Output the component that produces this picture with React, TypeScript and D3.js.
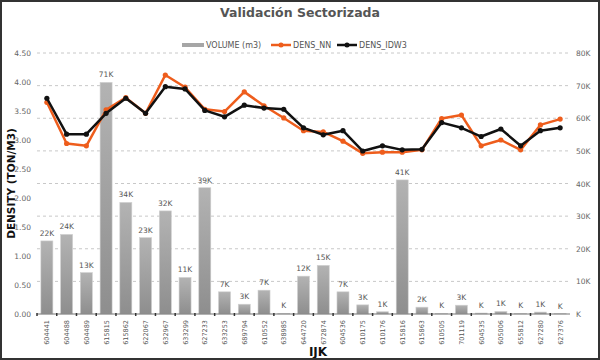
import { useEffect, useRef } from "react";
import * as d3 from "d3";

const categories = [
  "604441", "604488", "604489", "615815", "615862", "622067", "632967", "633299", "627233",
  "633253", "689794", "610552", "638985", "644720", "672874", "604536", "610175", "610176",
  "615816", "615863", "610505", "701119", "604535", "605006", "655812", "627280", "627376",
];

// volume in m3
const volume = [
  22400, 24400, 12700, 71000, 34200, 23400, 31600, 11200, 38700,
  6800, 3000, 7300, 200, 11600, 14900, 6800, 2800, 700,
  41100, 2100, 200, 2700, 300, 800, 200, 600, 100,
];

const densNN = [
  3.65, 2.94, 2.90, 3.52, 3.73, 3.46, 4.12, 3.91, 3.53,
  3.49, 3.83, 3.59, 3.38, 3.16, 3.14, 2.98, 2.77, 2.79,
  2.79, 2.83, 3.37, 3.43, 2.90, 3.00, 2.83, 3.26, 3.36,
];

const densIDW3 = [
  3.72, 3.10, 3.10, 3.46, 3.72, 3.46, 3.92, 3.88, 3.51,
  3.40, 3.60, 3.55, 3.53, 3.21, 3.09, 3.16, 2.81, 2.90,
  2.83, 2.84, 3.30, 3.21, 3.06, 3.19, 2.90, 3.16, 3.21,
];

const leftTicks = [0, 0.5, 1, 1.5, 2, 2.5, 3, 3.5, 4, 4.5];
const rightTicks = [0, 10000, 20000, 30000, 40000, 50000, 60000, 70000, 80000];

export default function App() {
  const svgRef = useRef<SVGSVGElement | null>(null);

  useEffect(() => {
    const width = 600;
    const height = 360;
    const m = { left: 37, right: 30, top: 53, bottom: 46 };
    const font = "'DejaVu Sans', Verdana, sans-serif";

    const svg = d3.select(svgRef.current);
    svg.selectAll("*").remove();
    svg.attr("width", width).attr("height", height);

    svg.append("rect").attr("width", width).attr("height", height).attr("fill", "#fff");

    const defs = svg.append("defs");
    const grad = defs
      .append("linearGradient")
      .attr("id", "barGrad")
      .attr("x1", 0).attr("x2", 0).attr("y1", 0).attr("y2", 1);
    grad.append("stop").attr("offset", "0%").attr("stop-color", "#b3b3b3");
    grad.append("stop").attr("offset", "100%").attr("stop-color", "#8e8e8e");

    const x = d3
      .scaleBand()
      .domain(categories)
      .range([m.left, width - m.right]);
    const yL = d3.scaleLinear().domain([0, 4.5]).range([height - m.bottom, m.top]);
    const yR = d3.scaleLinear().domain([0, 80000]).range([height - m.bottom, m.top]);
    const cx = (c: string) => (x(c) ?? 0) + x.bandwidth() / 2;

    // title
    svg
      .append("text")
      .attr("x", 300)
      .attr("y", 17)
      .attr("text-anchor", "middle")
      .style("font-family", font)
      .style("font-weight", "bold")
      .style("font-size", "12.5px")
      .attr("fill", "#555")
      .text("Validación Sectorizada");

    // legend
    const lg = svg.append("g").style("font-family", font).style("font-size", "8px").attr("fill", "#555");
    lg.append("rect").attr("x", 182).attr("y", 43).attr("width", 22).attr("height", 4).attr("fill", "#a6a6a6");
    lg.append("text").attr("x", 206).attr("y", 48).text("VOLUME (m3)");
    lg.append("line").attr("x1", 271).attr("x2", 291).attr("y1", 45).attr("y2", 45).attr("stroke", "#ee5d1c").attr("stroke-width", 2.5);
    lg.append("circle").attr("cx", 281).attr("cy", 45).attr("r", 2.5).attr("fill", "#ee5d1c");
    lg.append("text").attr("x", 293).attr("y", 48).text("DENS_NN");
    lg.append("line").attr("x1", 337).attr("x2", 357).attr("y1", 45).attr("y2", 45).attr("stroke", "#111").attr("stroke-width", 2.5);
    lg.append("circle").attr("cx", 347).attr("cy", 45).attr("r", 2.5).attr("fill", "#111");
    lg.append("text").attr("x", 359).attr("y", 48).text("DENS_IDW3");

    // gridlines (secondary axis)
    svg
      .append("g")
      .selectAll("line")
      .data(rightTicks.filter((t) => t > 0))
      .join("line")
      .attr("x1", m.left)
      .attr("x2", width - m.right)
      .attr("y1", (d) => yR(d))
      .attr("y2", (d) => yR(d))
      .attr("stroke", "#c8c8c8")
      .attr("stroke-width", 1)
      .attr("stroke-dasharray", "3,3");

    // bars
    svg
      .append("g")
      .selectAll("rect")
      .data(categories)
      .join("rect")
      .attr("x", (c) => cx(c) - 6)
      .attr("width", 12)
      .attr("y", (_, i) => yR(volume[i]))
      .attr("height", (_, i) => yR(0) - yR(volume[i]))
      .attr("fill", "url(#barGrad)")
      .attr("stroke", "#d0d0d0")
      .attr("stroke-width", 0.6);

    // bar labels
    svg
      .append("g")
      .style("font-family", font)
      .style("font-size", "7.5px")
      .attr("fill", "#555")
      .selectAll("text")
      .data(categories)
      .join("text")
      .attr("x", (c) => cx(c))
      .attr("y", (_, i) => yR(volume[i]) - 5)
      .attr("text-anchor", "middle")
      .text((_, i) => {
        const k = Math.round(volume[i] / 1000);
        return k === 0 ? "K" : `${k}K`;
      });

    // bottom axis line and ticks
    const base = height - m.bottom;
    svg
      .append("line")
      .attr("x1", m.left)
      .attr("x2", width - m.right)
      .attr("y1", base)
      .attr("y2", base)
      .attr("stroke", "#777")
      .attr("stroke-width", 1);
    svg
      .append("g")
      .selectAll("line")
      .data(categories)
      .join("line")
      .attr("x1", (c) => x(c) ?? 0)
      .attr("x2", (c) => x(c) ?? 0)
      .attr("y1", base - 1)
      .attr("y2", base + 2)
      .attr("stroke", "#333")
      .attr("stroke-width", 1.5);

    // x labels
    svg
      .append("g")
      .style("font-family", font)
      .style("font-size", "6.5px")
      .attr("fill", "#555")
      .selectAll("text")
      .data(categories)
      .join("text")
      .attr("transform", (c) => `translate(${cx(c) + 2.5},${base + 6}) rotate(-90)`)
      .attr("text-anchor", "end")
      .text((c) => c);

    // left axis labels
    svg
      .append("g")
      .style("font-family", font)
      .style("font-size", "7.5px")
      .attr("fill", "#666")
      .selectAll("text")
      .data(leftTicks)
      .join("text")
      .attr("x", 31)
      .attr("y", (d) => yL(d) + 3)
      .attr("text-anchor", "end")
      .text((d) => d3.format(".2f")(d));

    // right axis labels
    svg
      .append("g")
      .style("font-family", font)
      .style("font-size", "7.5px")
      .attr("fill", "#666")
      .selectAll("text")
      .data(rightTicks)
      .join("text")
      .attr("x", width - m.right + 6)
      .attr("y", (d) => yR(d) + 3)
      .text((d) => (d === 0 ? "K" : `${d / 1000}K`));

    // lines
    const series = [
      { values: densNN, color: "#ee5d1c", r: 2.6 },
      { values: densIDW3, color: "#111", r: 2.6 },
    ];
    const line = d3
      .line<number>()
      .x((_, i) => cx(categories[i]))
      .y((d) => yL(d));
    series.forEach((s) => {
      svg
        .append("path")
        .datum(s.values)
        .attr("d", line)
        .attr("fill", "none")
        .attr("stroke", s.color)
        .attr("stroke-width", 2.5)
        .attr("stroke-linejoin", "round");
      svg
        .append("g")
        .selectAll("circle")
        .data(s.values)
        .join("circle")
        .attr("cx", (_, i) => cx(categories[i]))
        .attr("cy", (d) => yL(d))
        .attr("r", s.r)
        .attr("fill", s.color);
    });

    // axis titles
    svg
      .append("text")
      .attr("transform", `translate(15,${(m.top + base) / 2}) rotate(-90)`)
      .attr("text-anchor", "middle")
      .style("font-family", font)
      .style("font-weight", "bold")
      .style("font-size", "10.5px")
      .attr("fill", "#111")
      .text("DENSITY (TON/M3)");
    svg
      .append("text")
      .attr("x", 318)
      .attr("y", 356)
      .attr("text-anchor", "middle")
      .style("font-family", font)
      .style("font-weight", "bold")
      .style("font-size", "12px")
      .attr("fill", "#111")
      .text("IJK");

    // frame
    svg
      .append("rect")
      .attr("x", 1)
      .attr("y", 1)
      .attr("width", width - 2)
      .attr("height", height - 2)
      .attr("fill", "none")
      .attr("stroke", "#333")
      .attr("stroke-width", 2);
  }, []);

  return (
    <div style={{ position: "absolute", left: 0, top: 0 }}>
      <svg ref={svgRef} style={{ display: "block" }}></svg>
    </div>
  );
}
